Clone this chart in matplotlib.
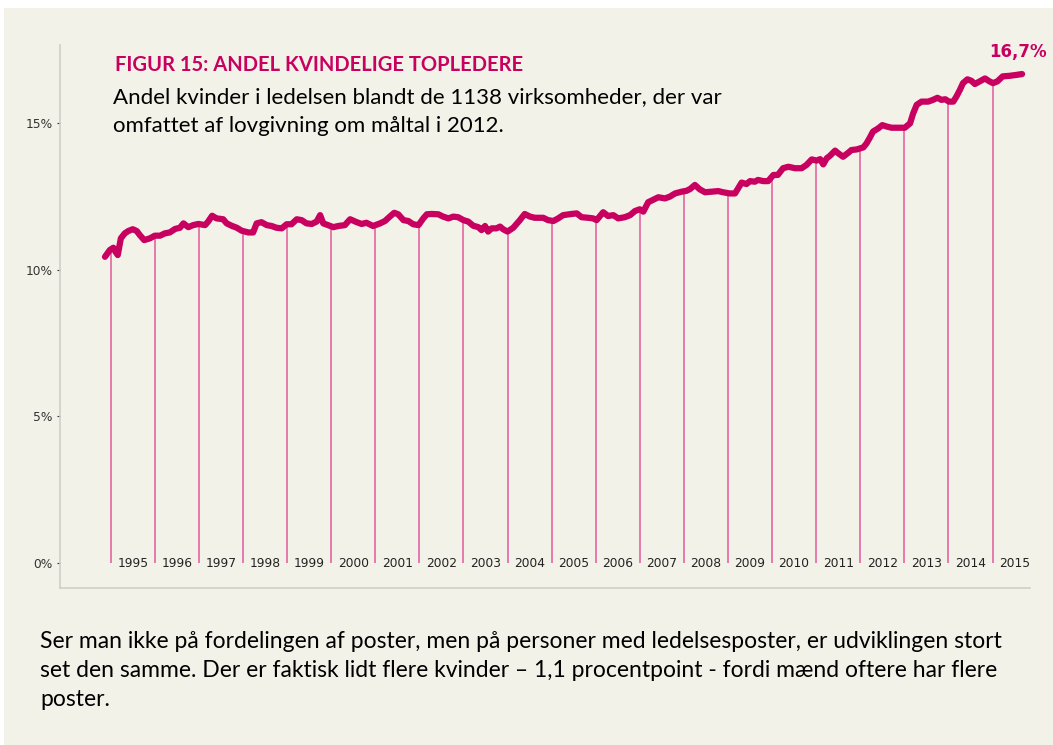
import numpy as np
import matplotlib
matplotlib.use('Agg')
import matplotlib.pyplot as plt
from matplotlib.patches import Rectangle

# andel kvinder (%), tid i decimalår
year = [1994.87, 1994.98, 1995.06, 1995.11, 1995.16, 1995.23, 1995.32, 1995.40, 1995.50, 1995.59,
        1995.66, 1995.76, 1995.89, 1996.00, 1996.12, 1996.23, 1996.34, 1996.46, 1996.57, 1996.65,
        1996.76, 1996.87, 1996.99, 1997.14, 1997.21, 1997.30, 1997.40, 1997.55, 1997.63, 1997.74,
        1997.86, 1997.97, 1998.12, 1998.23, 1998.31, 1998.42, 1998.54, 1998.65, 1998.76, 1998.88,
        1998.99, 1999.10, 1999.22, 1999.33, 1999.44, 1999.56, 1999.67, 1999.75, 1999.82, 1999.93,
        2000.05, 2000.16, 2000.31, 2000.43, 2000.58, 2000.69, 2000.80, 2000.95, 2001.11, 2001.22,
        2001.33, 2001.43, 2001.52, 2001.64, 2001.75, 2001.86, 2001.98, 2002.09, 2002.17, 2002.28,
        2002.43, 2002.54, 2002.66, 2002.77, 2002.88, 2003.00, 2003.11, 2003.22, 2003.34, 2003.41,
        2003.49, 2003.56, 2003.64, 2003.75, 2003.83, 2003.90, 2004.00, 2004.13, 2004.28, 2004.39,
        2004.51, 2004.62, 2004.81, 2004.92, 2005.04, 2005.15, 2005.26, 2005.45, 2005.57, 2005.68,
        2005.83, 2005.94, 2006.02, 2006.17, 2006.28, 2006.40, 2006.51, 2006.66, 2006.78, 2006.89,
        2007.00, 2007.08, 2007.19, 2007.30, 2007.42, 2007.57, 2007.68, 2007.80, 2007.95, 2008.06,
        2008.14, 2008.25, 2008.36, 2008.48, 2008.63, 2008.78, 2008.89, 2009.04, 2009.16, 2009.31,
        2009.42, 2009.50, 2009.61, 2009.68, 2009.80, 2009.91, 2010.03, 2010.13, 2010.25, 2010.37,
        2010.52, 2010.67, 2010.78, 2010.90, 2011.01, 2011.09, 2011.16, 2011.24, 2011.31, 2011.43,
        2011.50, 2011.61, 2011.73, 2011.80, 2011.92, 2012.07, 2012.14, 2012.22, 2012.29, 2012.41,
        2012.50, 2012.60, 2012.71, 2012.90, 2013.01, 2013.13, 2013.20, 2013.28, 2013.39, 2013.54,
        2013.65, 2013.75, 2013.84, 2013.93, 2014.01, 2014.11, 2014.18, 2014.26, 2014.33, 2014.43,
        2014.52, 2014.60, 2014.71, 2014.83, 2014.92, 2015.01, 2015.11, 2015.23, 2015.39, 2015.54,
        2015.67]
share = [10.44, 10.67, 10.75, 10.61, 10.50, 11.07, 11.24, 11.32, 11.38, 11.32,
         11.18, 11.01, 11.07, 11.16, 11.16, 11.24, 11.27, 11.39, 11.43, 11.58,
         11.45, 11.52, 11.56, 11.52, 11.64, 11.84, 11.75, 11.72, 11.58, 11.50,
         11.43, 11.33, 11.27, 11.27, 11.58, 11.62, 11.52, 11.49, 11.43, 11.41,
         11.55, 11.55, 11.72, 11.69, 11.58, 11.56, 11.64, 11.86, 11.58, 11.52,
         11.45, 11.49, 11.52, 11.72, 11.62, 11.56, 11.60, 11.49, 11.58, 11.66,
         11.81, 11.94, 11.89, 11.69, 11.66, 11.55, 11.52, 11.75, 11.89, 11.90,
         11.89, 11.81, 11.75, 11.81, 11.79, 11.69, 11.64, 11.50, 11.45, 11.35,
         11.49, 11.30, 11.41, 11.41, 11.47, 11.38, 11.30, 11.43, 11.69, 11.90,
         11.81, 11.77, 11.77, 11.69, 11.66, 11.75, 11.86, 11.90, 11.92, 11.79,
         11.77, 11.75, 11.69, 11.96, 11.83, 11.86, 11.75, 11.79, 11.86, 12.00,
         12.06, 11.98, 12.30, 12.38, 12.47, 12.43, 12.49, 12.60, 12.66, 12.69,
         12.75, 12.89, 12.74, 12.64, 12.66, 12.68, 12.64, 12.60, 12.60, 12.97,
         12.92, 13.02, 13.00, 13.06, 13.02, 13.02, 13.23, 13.23, 13.46, 13.51,
         13.46, 13.46, 13.57, 13.76, 13.72, 13.77, 13.59, 13.80, 13.88, 14.06,
         13.97, 13.85, 13.99, 14.08, 14.10, 14.17, 14.30, 14.51, 14.71, 14.82,
         14.93, 14.88, 14.84, 14.84, 14.84, 14.99, 15.33, 15.62, 15.73, 15.73,
         15.79, 15.86, 15.79, 15.81, 15.73, 15.73, 15.90, 16.13, 16.36, 16.49,
         16.44, 16.33, 16.42, 16.52, 16.43, 16.36, 16.42, 16.59, 16.61, 16.64,
         16.67]
years = list(range(1995, 2016))
yticks = [0, 5, 10, 15]
ytick_labels = ['0%', '5%', '10%', '15%']
end_label = '16,7%'

title = 'FIGUR 15: ANDEL KVINDELIGE TOPLEDERE'
subtitle = ['Andel kvinder i ledelsen blandt de 1138 virksomheder, der var',
            'omfattet af lovgivning om måltal i 2012.']
note = ['Ser man ikke på fordelingen af poster, men på personer med ledelsesposter, er udviklingen stort',
        'set den samme. Der er faktisk lidt flere kvinder \u2013 1,1 procentpoint - fordi mænd oftere har flere',
        'poster.']

bg = '#F3F2E8'
magenta = '#C8005F'
pink = '#E05A9C'

W, H = 1053, 745
fig = plt.figure(figsize=(W / 100, H / 100), dpi=100, facecolor='white')
fig.patches.append(Rectangle((4 / W, 0), 1, 1 - 8 / H, transform=fig.transFigure,
                             facecolor=bg, edgecolor='none', zorder=-10))

ax = fig.add_axes([60 / W, 1 - 588 / H, (1030 - 60) / W, (588 - 45) / H])
ax.set_facecolor(bg)
ax.patch.set_alpha(0)

# lodrette linjer ved hvert årsskifte
drop = np.interp(years, year, share)
ax.vlines(years, 0, drop, color=pink, lw=1.1, zorder=2)
ax.plot(year, share, color=magenta, lw=4.5, solid_capstyle='round', solid_joinstyle='round', zorder=3)

for y in years:
    ax.text(y + 0.5, 0, str(y), ha='center', va='center', fontsize=8.8, color='#222222',
            family='DejaVu Sans')

ax.text(year[-1] - 0.1, share[-1] + 0.45, end_label, ha='center', va='bottom', fontsize=12,
        fontweight='bold', color=magenta, family='DejaVu Sans')

ax.set_xlim(1993.85, 2015.85)
ax.set_ylim(-0.85, 17.66)
ax.set_yticks(yticks)
ax.set_yticklabels(ytick_labels, fontsize=8.8, color='#333333')
ax.tick_params(axis='y', length=2.5, width=0.8, color='#333333', pad=3)
ax.set_xticks([])
for s in ['top', 'right']:
    ax.spines[s].set_visible(False)
for s in ['left', 'bottom']:
    ax.spines[s].set_color('#CFCFCA')
    ax.spines[s].set_linewidth(1.2)

fig.text(115 / W, 1 - 65 / H, title, ha='left', va='center', fontsize=14.5, fontweight='bold',
         color=magenta, family='Lato')
for i, line in enumerate(subtitle):
    fig.text(113 / W, 1 - (97 + 29 * i) / H, line, ha='left', va='center', fontsize=16,
             color='black', family='Lato')
for i, line in enumerate(note):
    fig.text(40 / W, 1 - (641 + 29.5 * i) / H, line, ha='left', va='center', fontsize=16.5,
             color='black', family='Lato')

fig.savefig('out.png', dpi=100, facecolor='white')
